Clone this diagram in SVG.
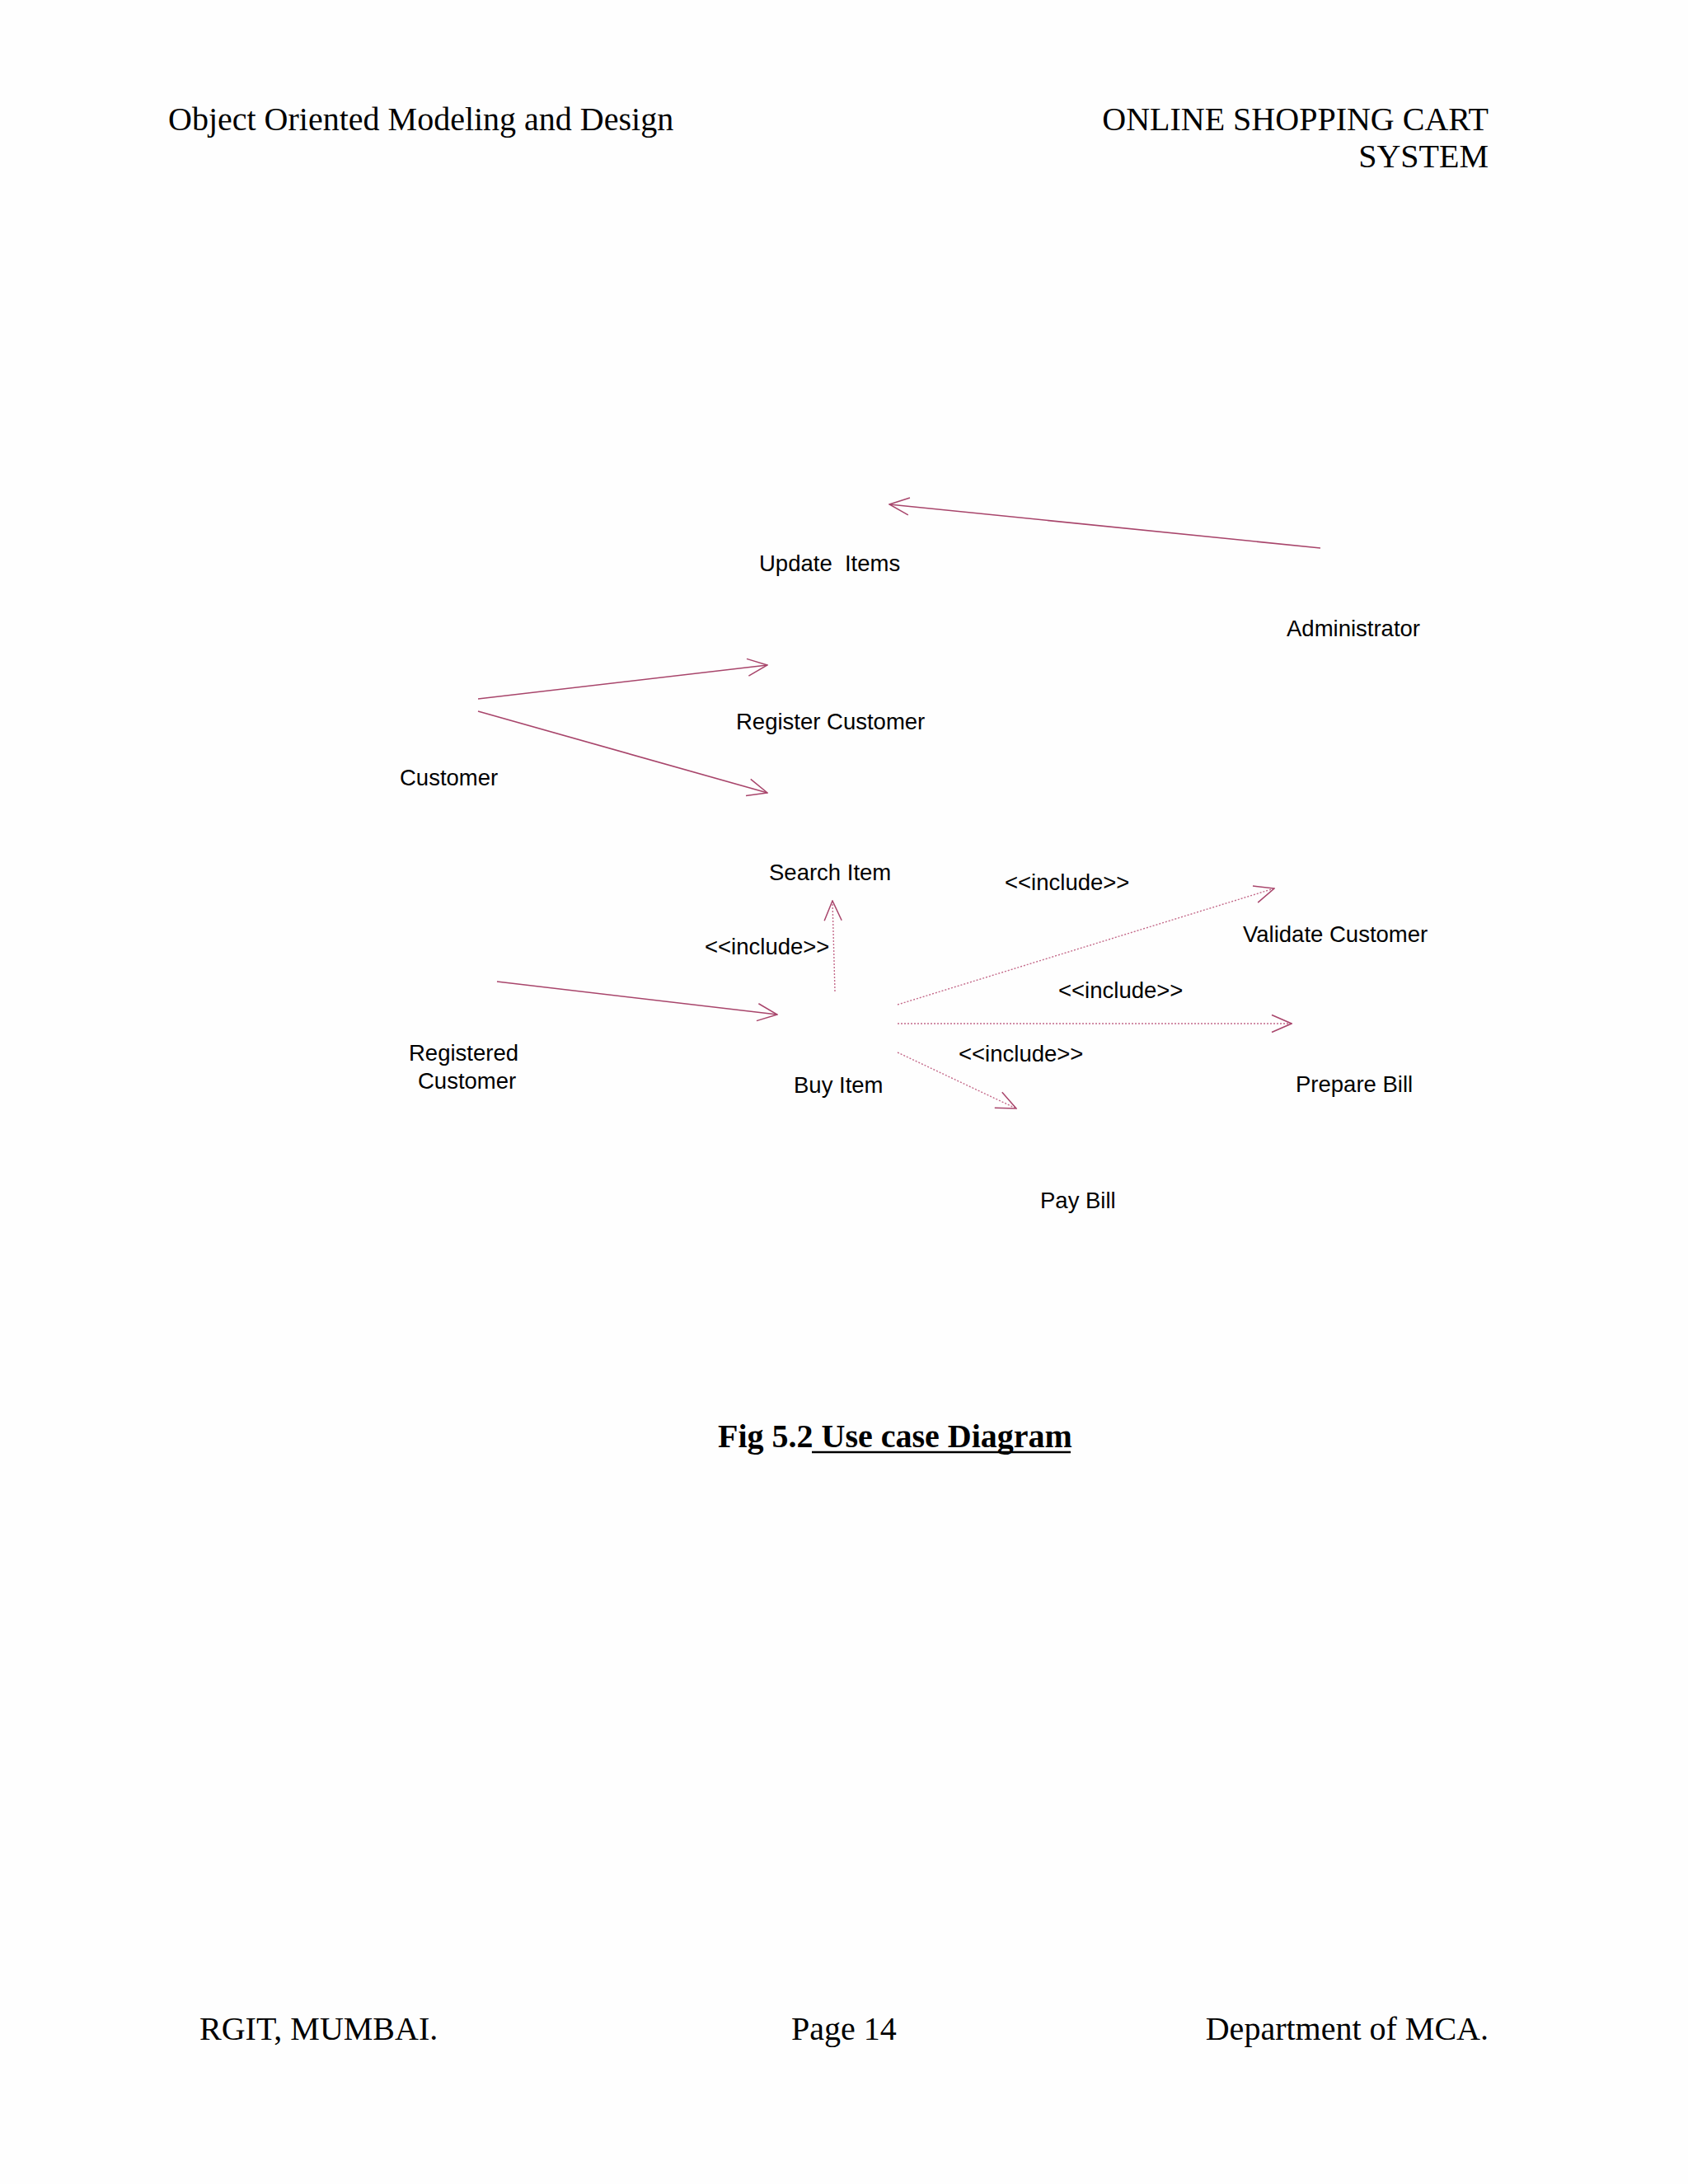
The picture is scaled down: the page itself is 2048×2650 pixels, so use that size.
<svg xmlns="http://www.w3.org/2000/svg" width="2048" height="2650" viewBox="0 0 2048 2650">
  <style>
    .page { font-family: "Liberation Serif", "Times New Roman", serif; font-size: 40px; fill: #000; }
    .cap { font-family: "Liberation Serif", "Times New Roman", serif; font-size: 40px; font-weight: bold; fill: #000; }
    .lbl { font-family: "Liberation Sans", Arial, sans-serif; font-size: 27.5px; fill: #000; }
    .assoc { stroke: #a8456b; stroke-width: 1.6; fill: none; }
    .incl { stroke: #c46a8a; stroke-width: 1.4; stroke-dasharray: 2 2; fill: none; }
  </style>
  <defs>
    <marker id="open" markerUnits="userSpaceOnUse" viewBox="0 0 26 24" refX="25" refY="12" markerWidth="26" markerHeight="24" orient="auto">
      <path d="M1,1.5 L25,12 L1,22.5" fill="none" stroke="#a8456b" stroke-width="1.5" stroke-dasharray="none"/>
    </marker>
  </defs>
  <rect x="0" y="0" width="2048" height="2650" fill="#fefefe"/>

  <g id="header">
    <text class="page" x="204" y="158">Object Oriented Modeling and Design</text>
    <text class="page" x="1806" y="158" text-anchor="end">ONLINE SHOPPING CART</text>
    <text class="page" x="1806" y="203" text-anchor="end">SYSTEM</text>
  </g>

  <g id="connectors">
    <line class="assoc" x1="1602" y1="665" x2="1079" y2="612" marker-end="url(#open)"/>
    <line class="assoc" x1="580" y1="848" x2="931" y2="807" marker-end="url(#open)"/>
    <line class="assoc" x1="580" y1="863" x2="931" y2="962" marker-end="url(#open)"/>
    <line class="assoc" x1="603" y1="1191" x2="943" y2="1231" marker-end="url(#open)"/>
    <line class="incl" x1="1013" y1="1203" x2="1010" y2="1093" marker-end="url(#open)"/>
    <line class="incl" x1="1089" y1="1219" x2="1546" y2="1078" marker-end="url(#open)"/>
    <line class="incl" x1="1089" y1="1242" x2="1567" y2="1242" marker-end="url(#open)"/>
    <line class="incl" x1="1089" y1="1277" x2="1233" y2="1345" marker-end="url(#open)"/>
    <text class="lbl" x="855" y="1158">&lt;&lt;include&gt;&gt;</text>
    <text class="lbl" x="1219" y="1080">&lt;&lt;include&gt;&gt;</text>
    <text class="lbl" x="1284" y="1211">&lt;&lt;include&gt;&gt;</text>
    <text class="lbl" x="1163" y="1288">&lt;&lt;include&gt;&gt;</text>
  </g>

  <g id="update-items"><text class="lbl" x="921" y="693" xml:space="preserve">Update  Items</text></g>
  <g id="administrator"><text class="lbl" x="1561" y="772">Administrator</text></g>
  <g id="register-customer"><text class="lbl" x="893" y="885">Register Customer</text></g>
  <g id="customer"><text class="lbl" x="485" y="953">Customer</text></g>
  <g id="search-item"><text class="lbl" x="933" y="1068">Search Item</text></g>
  <g id="validate-customer"><text class="lbl" x="1508" y="1143">Validate Customer</text></g>
  <g id="registered-customer">
    <text class="lbl" x="496" y="1287">Registered</text>
    <text class="lbl" x="507" y="1321">Customer</text>
  </g>
  <g id="buy-item"><text class="lbl" x="963" y="1326">Buy Item</text></g>
  <g id="prepare-bill"><text class="lbl" x="1572" y="1325">Prepare Bill</text></g>
  <g id="pay-bill"><text class="lbl" x="1262" y="1466">Pay Bill</text></g>

  <g id="caption">
    <text class="cap" x="871" y="1756" xml:space="preserve">Fig 5.2 Use case Diagram</text>
    <line x1="985" y1="1762" x2="1299" y2="1762" stroke="#000" stroke-width="2.5"/>
  </g>

  <g id="footer">
    <text class="page" x="242" y="2475">RGIT, MUMBAI.</text>
    <text class="page" x="960" y="2475">Page 14</text>
    <text class="page" x="1806" y="2475" text-anchor="end">Department of MCA.</text>
  </g>
</svg>
